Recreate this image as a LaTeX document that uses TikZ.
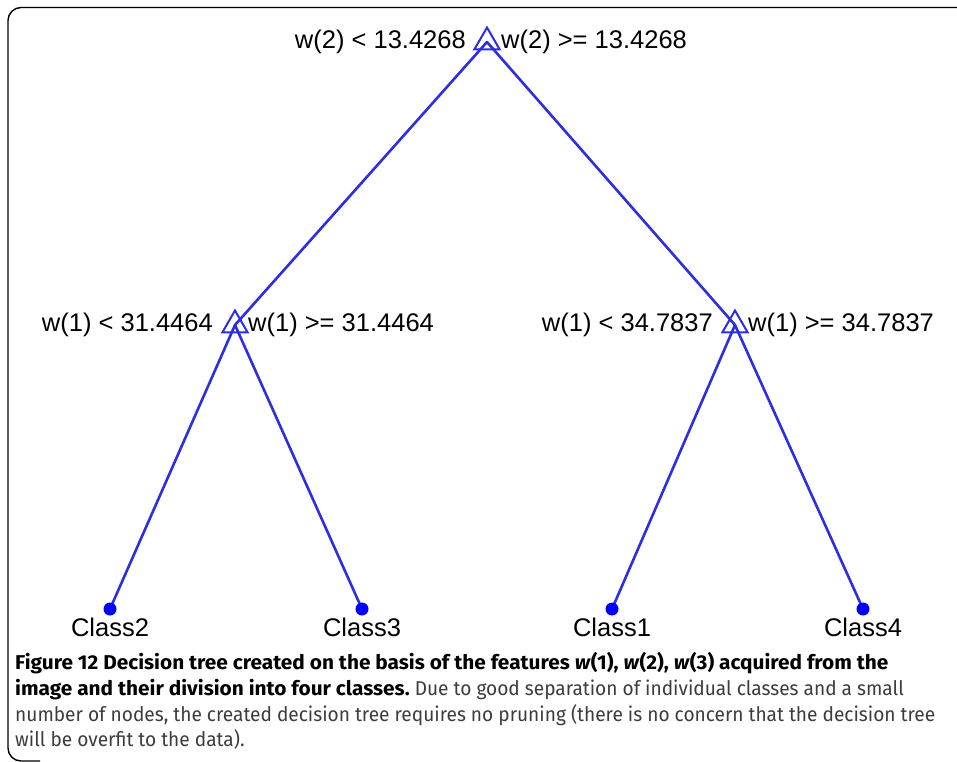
\documentclass[tikz,border=0pt]{standalone}
\usepackage{fontspec}
\usepackage{graphicx}
\usetikzlibrary{shapes.geometric}
\setmainfont{Liberation Sans}
\newfontfamily\capfont{Fira Sans}
\definecolor{treeblue}{RGB}{45,45,225}
\definecolor{capgray}{RGB}{60,60,60}
\newlength{\capwd}
\newcommand{\capfontsize}{\capfont\fontsize{20}{24}\selectfont}
\begin{document}
\settowidth{\capwd}{\capfontsize number of nodes, the created decision tree requires no pruning (there is no concern that the decision tree}%
\pgfmathsetmacro{\capsx}{920/\capwd}%
\pgfmathsetmacro{\capbx}{1.09*920/\capwd}%
\begin{tikzpicture}[x=1pt,y=-1pt,
  branch/.style={draw=treeblue,line width=2.6pt,line cap=round},
  splitmark/.style={draw=treeblue,line width=2pt,regular polygon,regular polygon sides=3,minimum size=29pt,inner sep=0pt},
  leafmark/.style={fill=blue,circle,minimum size=13pt,inner sep=0pt},
  lbl/.style={font=\fontsize{25.5}{28}\selectfont,inner sep=0pt},
  capline/.style={anchor=base west,inner sep=0pt,font=\capfontsize}
]
\useasboundingbox (0,0) rectangle (957,761);
\fill[white] (0,0) rectangle (957,761);
% frame
\draw[line width=1.4pt,rounded corners=13pt] (960,7.5) -| (8,761) -- (40,761);
% nodes
\coordinate (root) at (487,42);
\coordinate (nl) at (235,325);
\coordinate (nr) at (735,325);
\coordinate (c2) at (110,609);
\coordinate (c3) at (362,609);
\coordinate (c1) at (612,609);
\coordinate (c4) at (863,609);
% branches
\draw[branch] (root) -- (nl);
\draw[branch] (root) -- (nr);
\draw[branch] (nl) -- (c2);
\draw[branch] (nl) -- (c3);
\draw[branch] (nr) -- (c1);
\draw[branch] (nr) -- (c4);
% markers
\node[splitmark] (mroot) at (root) {};
\node[splitmark] (ml) at (nl) {};
\node[splitmark] (mr) at (nr) {};
\node[leafmark] (l2) at (c2) {};
\node[leafmark] (l3) at (c3) {};
\node[leafmark] (l1) at (c1) {};
\node[leafmark] (l4) at (c4) {};
% split labels
\node[lbl,anchor=east] (t0a) at (466,42) {w(2) < 13.4268};
\node[lbl,anchor=west] (t0b) at (501,42) {w(2) >= 13.4268};
\node[lbl,anchor=east] (t1a) at (213,325) {w(1) < 31.4464};
\node[lbl,anchor=west] (t1b) at (248,325) {w(1) >= 31.4464};
\node[lbl,anchor=east] (t2a) at (713,325) {w(1) < 34.7837};
\node[lbl,anchor=west] (t2b) at (748,325) {w(1) >= 34.7837};
% class labels
\node[lbl] (k2) at (110,627) {Class2};
\node[lbl] (k3) at (362,627) {Class3};
\node[lbl] (k1) at (612,627) {Class1};
\node[lbl] (k4) at (863,627) {Class4};
% caption
\node[capline] (cap1) at (15,669) {\scalebox{\capbx}[1]{\textbf{Figure 12 Decision tree created on the basis of the features \textit{w}(1), \textit{w}(2), \textit{w}(3) acquired from the}}};
\node[capline] (cap2) at (15,695) {\scalebox{\capbx}[1]{\textbf{image and their division into four classes.}}\scalebox{\capsx}[1]{\color{capgray}\ Due to good separation of individual classes and a small}};
\node[capline,text=capgray] (cap3) at (15,721) {\scalebox{\capsx}[1]{number of nodes, the created decision tree requires no pruning (there is no concern that the decision tree}};
\node[capline,text=capgray] (cap4) at (15,746) {\scalebox{\capsx}[1]{will be overfit to the data).}};
\end{tikzpicture}
\end{document}
